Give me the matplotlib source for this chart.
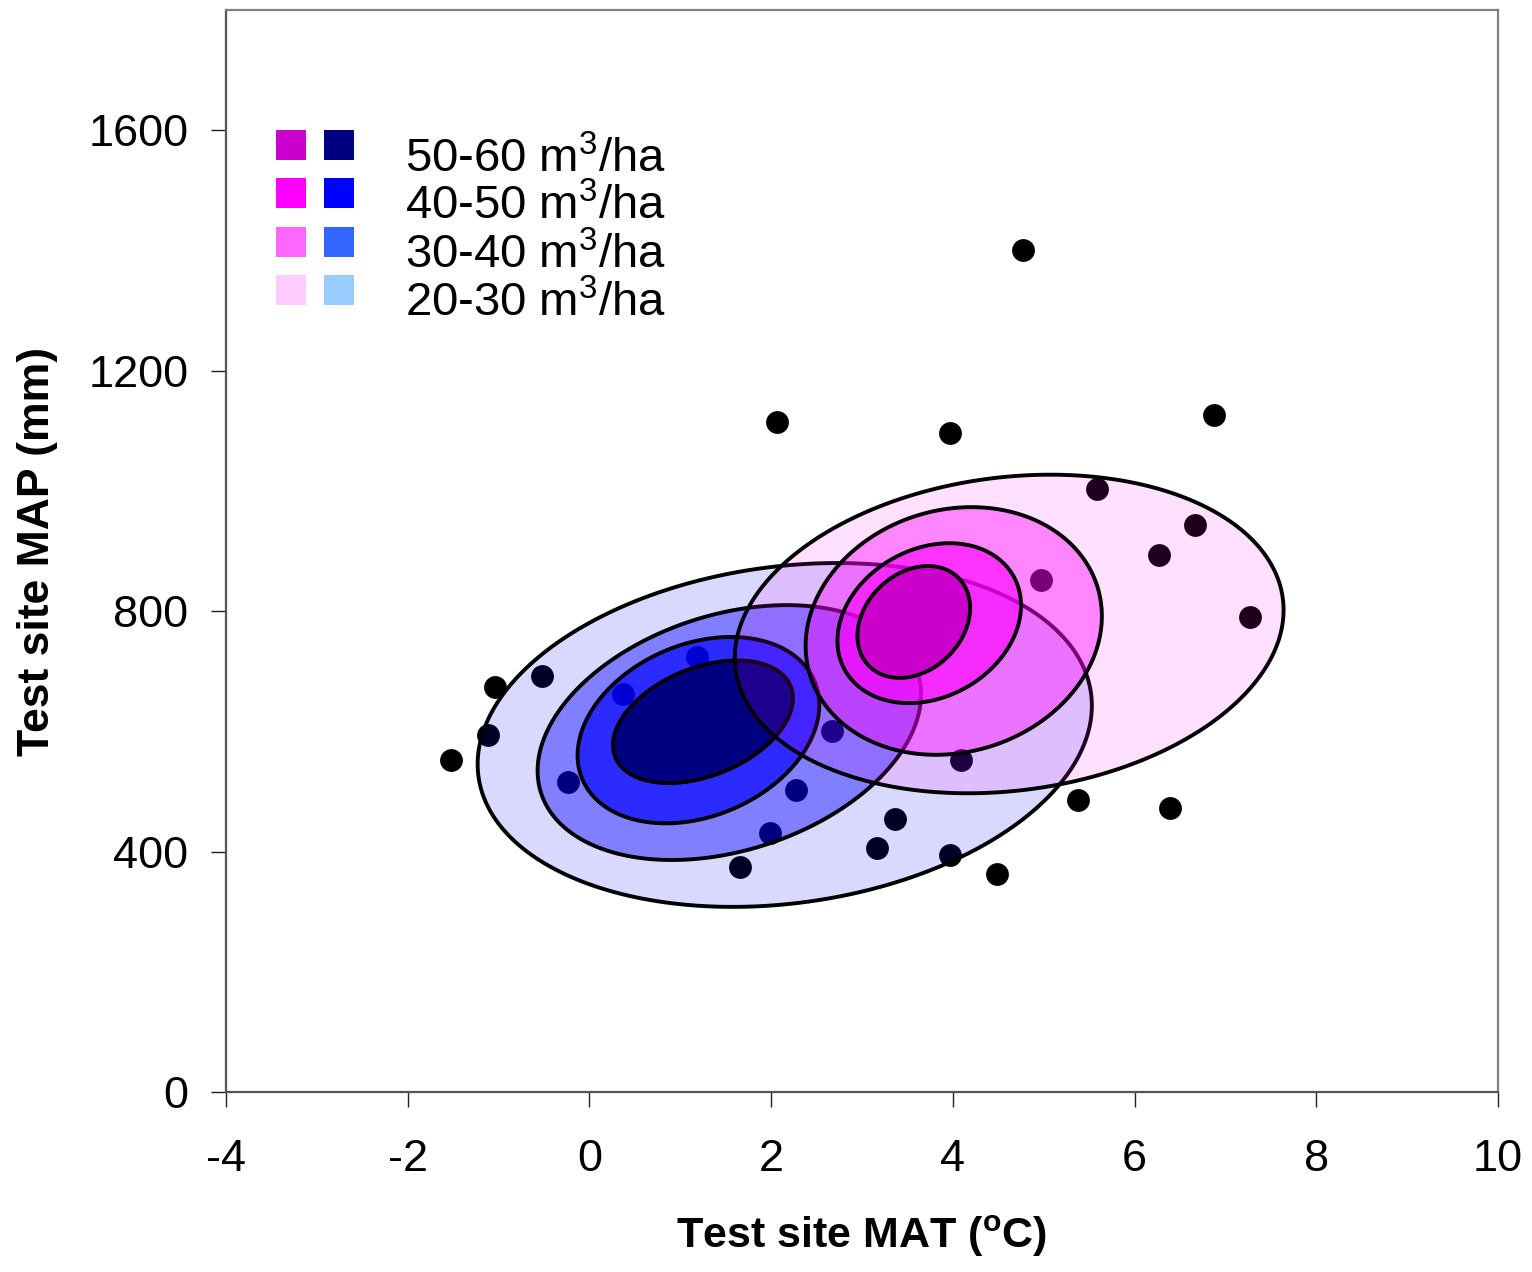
import numpy as np
import matplotlib
matplotlib.use('Agg')
import matplotlib.pyplot as plt
from matplotlib.patches import Rectangle

plt.rcParams['font.family'] = ['Liberation Sans', 'DejaVu Sans']
plt.rcParams['mathtext.fontset'] = 'custom'
plt.rcParams['mathtext.rm'] = 'Liberation Sans'
plt.rcParams['mathtext.bf'] = 'Liberation Sans:bold'
plt.rcParams['axes.unicode_minus'] = False

# ── 数据 ──────────────────────────────────
# 测试点 (MAT °C, MAP mm)
site_mat = [-1.52, -1.12, -1.04, -0.52, -0.24, 0.37, 1.18, 1.66, 1.99, 2.27,
            2.67, 2.06, 3.17, 3.36, 3.97, 3.97, 4.09, 4.49, 4.77, 4.97,
            5.38, 5.59, 6.27, 6.39, 6.67, 6.87, 7.27]
site_map = [552, 594, 674, 692, 516, 662, 724, 374, 431, 502,
            600, 1114, 406, 454, 394, 1096, 552, 363, 1400, 852,
            486, 1003, 893, 472, 943, 1126, 790]

classes = ['20-30', '30-40', '40-50', '50-60']

# 蓝色椭圆: 中心, x半宽, y半高, 相关系数 (外→内)
blue_cx = [2.15, 1.54, 1.20, 1.25]
blue_cy = [594, 598, 602, 616]
blue_sx = [3.38, 2.11, 1.33, 0.99]
blue_sy = [286, 212, 155, 102]
blue_rho = [0.17, 0.30, 0.27, 0.38]

# 粉色椭圆
pink_cx = [4.62, 4.01, 3.74, 3.57]
pink_cy = [762, 767, 780, 782]
pink_sx = [3.02, 1.63, 1.01, 0.62]
pink_sy = [265, 206, 133, 93]
pink_rho = [0.15, 0.12, 0.22, 0.25]

# 填充色 (含透明度), 外→内
blue_fill = [(0, 0, 1, 0.15), (0, 0, 1, 0.41), (0, 0, 1, 0.66), (0, 0, 0.5, 1.0)]
pink_fill = [(1, 0, 1, 0.12), (1, 0, 1, 0.40), (1, 0, 1, 0.62), (0.8, 0, 0.8, 1.0)]

# 图例色块 (上→下: 50-60 ... 20-30)
leg_pink = ['#CC00CC', '#FF00FF', '#FF66FF', '#FFCCFF']
leg_blue = ['#000080', '#0000FF', '#3366FF', '#99CCFF']
leg_text = ['50-60', '40-50', '30-40', '20-30']


def ellipse_xy(cx, cy, sx, sy, rho, n=400):
    t = np.linspace(0, 2 * np.pi, n)
    x = cx + sx * np.cos(t)
    y = cy + sy * (rho * np.cos(t) + np.sqrt(1 - rho ** 2) * np.sin(t))
    return x, y


fig = plt.figure(figsize=(15.32, 12.72), dpi=100)
ax = fig.add_axes([0.1475, 0.1415, 0.8303, 0.8506])

ax.scatter(site_mat, site_map, s=270, color='black', zorder=1, linewidths=0)

for i in range(len(classes)):
    x, y = ellipse_xy(blue_cx[i], blue_cy[i], blue_sx[i], blue_sy[i], blue_rho[i])
    ax.fill(x, y, facecolor=blue_fill[i], edgecolor='black', linewidth=2.8, zorder=2 + i)
for i in range(len(classes)):
    x, y = ellipse_xy(pink_cx[i], pink_cy[i], pink_sx[i], pink_sy[i], pink_rho[i])
    ax.fill(x, y, facecolor=pink_fill[i], edgecolor='black', linewidth=2.8, zorder=6 + i)

# 图例
sq_w, sq_h = 0.0236, 0.0277
row_y = [0.875, 0.831, 0.7856, 0.741]
for k in range(4):
    ax.add_patch(Rectangle((0.0511 - sq_w / 2, row_y[k] - sq_h / 2), sq_w, sq_h,
                           transform=ax.transAxes, facecolor=leg_pink[k],
                           edgecolor='none', zorder=20))
    ax.add_patch(Rectangle((0.0888 - sq_w / 2, row_y[k] - sq_h / 2), sq_w, sq_h,
                           transform=ax.transAxes, facecolor=leg_blue[k],
                           edgecolor='none', zorder=20))
    ax.text(0.1407, row_y[k] - 0.013, leg_text[k] + r' m$^3$/ha', transform=ax.transAxes,
            fontsize=34, va='center', ha='left', zorder=21)

ax.set_xlim(-4, 10)
ax.set_ylim(0, 1800)
ax.set_xticks(range(-4, 11, 2))
ax.set_yticks([0, 400, 800, 1200, 1600])
ax.tick_params(direction='out', length=11, width=1.0, labelsize=32.5, color='#222222')
ax.tick_params(axis='x', pad=23)
ax.tick_params(axis='y', pad=16)

for side in ['left', 'bottom']:
    ax.spines[side].set_color('#555555')
for side in ['top', 'right']:
    ax.spines[side].set_color('#808080')
for sp in ax.spines.values():
    sp.set_linewidth(1.6)

ax.set_xlabel(r'Test site MAT ($^{\mathbf{o}}$C)', fontsize=31, fontweight='bold', labelpad=24)
ax.set_ylabel('Test site MAP (mm)', fontsize=32, fontweight='bold', labelpad=22)

fig.savefig('out.png', dpi=100, facecolor='white')
